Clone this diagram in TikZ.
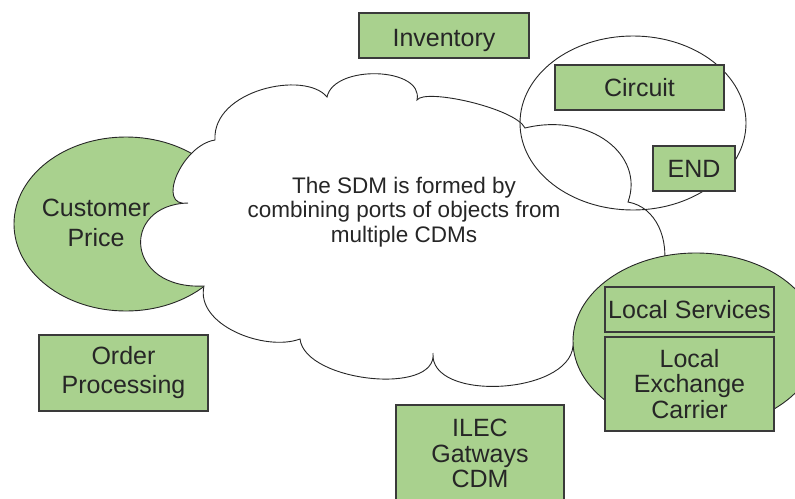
\documentclass[tikz,border=0pt]{standalone}
\usepackage{fontspec}
\setmainfont{Liberation Sans}
\usetikzlibrary{shapes.geometric}
\definecolor{boxgreen}{HTML}{A9D18E}
\definecolor{txt}{HTML}{262626}
\definecolor{edge}{HTML}{3A3A3A}
\begin{document}
\begin{tikzpicture}[x=1pt,y=-1pt,
  every node/.style={font=\fontsize{25}{25.5}\selectfont, text=txt, align=center},
  gbox/.style={draw=edge, line width=1.2pt, fill=boxgreen, inner sep=0pt},
  oneline/.style={text height=18pt, text depth=0pt},
  gell/.style={ellipse, draw=black!85, line width=0.9pt, fill=boxgreen, inner sep=0pt},
  oell/.style={ellipse, draw=black!85, line width=0.9pt, inner sep=0pt},
  cloudline/.style={draw=black!85, line width=0.9pt, fill=white}]
\useasboundingbox (0,0) rectangle (795,498);
% left green ellipse
\node[gell, minimum width=224pt, minimum height=174pt] (custell) at (126,224) {};
% cloud
\path[cloudline] (327,97) coordinate (c1)
  .. controls (334,64) and (424,67) .. (417,100) coordinate (c2)
  .. controls (425,88) and (515,108) .. (525,128) coordinate (c3)
  .. controls (590,112) and (645,155) .. (628,202) coordinate (c4)
  .. controls (684,212) and (684,330) .. (573,346) coordinate (c5)
  .. controls (569,395) and (429,402) .. (433,353) coordinate (c6)
  .. controls (438,396) and (305,382) .. (300,339) coordinate (c7)
  .. controls (265,352) and (195,325) .. (204,286) coordinate (c8)
  .. controls (125,290) and (120,205) .. (188,203) coordinate (c9)
  .. controls (155,208) and (182,145) .. (215,140) coordinate (c10)
  .. controls (212,90) and (305,70) .. (c1) -- cycle;
\node[font=\fontsize{22.5}{24.5}\selectfont] (sdm) at (404,211.7) {The SDM is formed by\\combining ports of objects from\\multiple CDMs};
% outline ellipse around Circuit and END
\node[oell, minimum width=226pt, minimum height=174pt] (circell) at (633,123) {};
% bottom right green ellipse
\node[gell, minimum width=246pt, minimum height=176pt] (lecell) at (696,341) {};
% text in left ellipse
\node[font=\fontsize{25}{30}\selectfont] (cust) at (96,223) {Customer\\Price};
% boxes
\node[gbox, minimum width=170pt, minimum height=45pt, text height=22pt, text depth=0pt] (inv) at (444,35.5) {Inventory};
\node[gbox, oneline, minimum width=169pt, minimum height=45pt] (circ) at (639.5,87.5) {Circuit};
\node[gbox, oneline, minimum width=82pt, minimum height=45pt] (endb) at (694,168.5) {END};
\node[gbox, oneline, minimum width=169pt, minimum height=45pt] (ls) at (689.5,309.5) {Local Services};
\node[gbox, minimum width=169pt, minimum height=94pt] (lec) at (689.5,384) {Local\\Exchange\\Carrier};
\node[gbox, minimum width=169pt, minimum height=76pt, font=\fontsize{25}{29}\selectfont] (op) at (123.5,373) {Order\\Processing};
\node[gbox, minimum width=168pt, minimum height=97pt] (ilec) at (480,453.5) {ILEC\\Gatways\\CDM};
\end{tikzpicture}
\end{document}
